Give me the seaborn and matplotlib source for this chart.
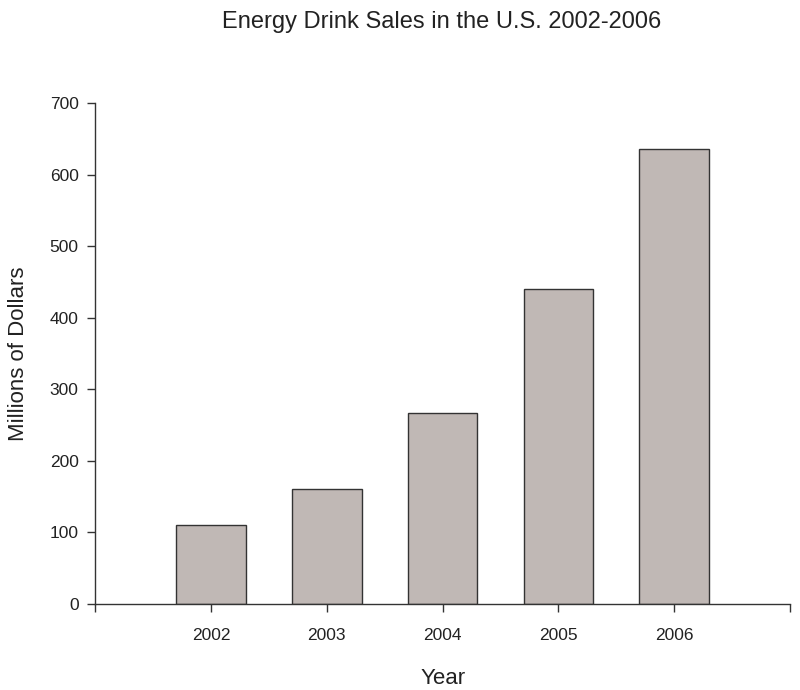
import matplotlib
matplotlib.use("Agg")
import matplotlib.pyplot as plt
import seaborn as sns
import pandas as pd

# Data
years = ["2002", "2003", "2004", "2005", "2006"]
sales = [111, 161, 267, 440, 636]

df = pd.DataFrame({"Year": years, "Sales": sales})

sns.set_style("ticks")
plt.rcParams["font.family"] = ["Liberation Sans", "DejaVu Sans"]

fig = plt.figure(figsize=(8, 6.9), dpi=100)
ax = fig.add_axes([0.119, 0.1246, 0.8685, 0.7261])

sns.barplot(data=df, x="Year", y="Sales", color="#c0b8b5", width=0.6,
            edgecolor="#333333", linewidth=1, saturation=1, ax=ax)

ax.set_xlim(-1, 5)
ax.set_ylim(0, 700)
ax.set_yticks(range(0, 701, 100))
ax.set_xticks(range(-1, 6))
ax.set_xticklabels([""] + years + [""])
ax.tick_params(axis="both", direction="out", length=6, width=1, color="#333333",
               labelsize=12.5, labelcolor="#222222")
ax.tick_params(axis="x", pad=11)
ax.tick_params(axis="y", pad=6)
for s in ["left", "bottom"]:
    ax.spines[s].set_color("#333333")
    ax.spines[s].set_linewidth(1)
sns.despine(ax=ax)

ax.set_xlabel("Year", fontsize=16, labelpad=18, color="#222222")
ax.set_ylabel("Millions of Dollars", fontsize=16, labelpad=15, color="#222222")
fig.text(0.552, 0.968, "Energy Drink Sales in the U.S. 2002-2006",
         ha="center", va="center", fontsize=17, color="#222222")

fig.savefig("out.png", dpi=100)
